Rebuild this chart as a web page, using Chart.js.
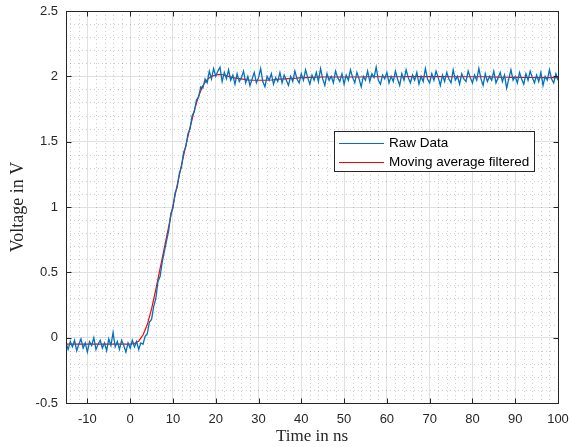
<!DOCTYPE html>
<html>
<head>
<meta charset="utf-8">
<title>Step response</title>
<script src="https://cdn.jsdelivr.net/npm/chart.js@4.4.1/dist/chart.umd.min.js"></script>
<style>
html,body{margin:0;padding:0;background:#fff;}
canvas{display:block;}
</style>
</head>
<body>
<canvas id="stepChart" width="571" height="447"></canvas>
<script>
// ======================================================
// DATA
// ======================================================

// raw samples, every 0.5 ns starting at -15 ns (one row = 5 ns)
const RAW_T0 = -15;
const RAW_DT = 0.5;
const rawVolt = [
    -0.04,-0.09,-0.03,-0.07,-0.02,-0.10,-0.05,-0.01,-0.08,-0.04,
    -0.11,-0.03,-0.06, 0.00,-0.09,-0.05,-0.02,-0.08,-0.04,-0.10,
    -0.01,-0.06, 0.04,-0.07,-0.03,-0.09,-0.02,-0.06,-0.11,-0.04,
    -0.08,-0.02,-0.07,-0.03,-0.09,-0.04,-0.05, 0.01, 0.03, 0.12,
     0.14, 0.24, 0.30, 0.43, 0.47, 0.58, 0.66, 0.74, 0.82, 0.95,
     0.99, 1.11, 1.15, 1.26, 1.31, 1.42, 1.46, 1.56, 1.60, 1.70,
     1.73, 1.82, 1.84, 1.92, 1.91, 1.98, 1.95, 2.04, 1.98, 2.06,
     2.00, 2.04, 2.07, 1.96, 2.03, 1.98, 2.05, 1.97, 2.01, 1.94,
     2.02, 1.96, 1.99, 2.04, 1.95, 2.00, 1.93, 1.98, 2.03, 1.95,
     1.99, 2.06, 1.96, 1.92, 2.00, 1.97, 2.02, 1.94, 1.99, 1.96,
     2.03, 1.95, 2.01, 1.97, 1.93, 2.00, 1.96, 2.04, 1.98, 1.95,
     2.02, 1.97, 2.05, 1.99, 1.94, 2.01, 1.97, 2.03, 1.96, 2.06,
     1.98, 1.93, 2.02, 1.97, 2.00, 1.95, 2.04, 1.99, 1.96, 2.02,
     1.94, 2.01, 1.97, 2.05, 1.99, 1.95, 2.03, 1.98, 1.92, 2.00,
     1.97, 2.04, 1.96, 2.02, 1.99, 2.07, 1.97, 1.94, 2.01, 1.98,
     2.03, 1.95, 2.00, 1.96, 2.04, 1.98, 1.93, 2.02, 1.97, 2.05,
     1.99, 1.95, 2.01, 1.97, 2.03, 1.94, 2.00, 1.96, 2.06, 1.98,
     1.95, 2.02, 1.97, 2.04, 1.99, 1.93, 2.01, 1.96, 2.03, 1.98,
     1.95, 2.05, 1.97, 2.00, 1.94, 2.02, 1.98, 1.96, 2.04, 1.99,
     1.95, 2.01, 1.97, 2.06, 1.98, 1.93, 2.02, 1.96, 2.00, 1.97,
     2.04, 1.95, 1.99, 2.03, 1.96, 2.01, 1.91, 1.98, 2.05, 1.97,
     2.00, 1.95, 2.03, 1.98, 1.94, 2.02, 1.97, 2.04, 1.99, 1.95,
     2.01, 1.96, 2.03, 1.93, 2.00, 1.97, 2.05, 1.98, 1.95, 2.02,
     1.97
];

// moving average, every 1 ns starting at -15 ns (one row = 10 ns)
const AVG_T0 = -15;
const AVG_DT = 1;
const avgVolt = [
    -0.05,-0.05,-0.05,-0.05,-0.05,-0.05,-0.05,-0.05,-0.05,-0.05,
    -0.05,-0.05,-0.05,-0.05,-0.05,-0.05,-0.045,-0.025,0.02,0.10,
     0.22, 0.37, 0.53, 0.69, 0.85, 1.01, 1.17, 1.32, 1.47, 1.61,
     1.74, 1.85, 1.93, 1.975,2.00, 2.01, 2.015,2.01, 2.00, 1.99,
     1.985,1.98, 1.975,1.97, 1.97, 1.97, 1.97, 1.97, 1.972,1.975,
     1.978,1.98, 1.983,1.985,1.987,1.99, 1.99, 1.992,1.993,1.994,
     1.995,1.995,1.995,1.995,1.995,1.995,1.995,1.995,1.995,1.995,
     1.997,1.997,1.997,1.997,1.997,1.997,1.997,1.997,1.997,1.997,
     1.998,1.998,1.998,1.998,1.998,1.998,1.998,1.998,1.998,1.998,
     1.997,1.997,1.997,1.997,1.997,1.997,1.997,1.997,1.997,1.997,
     1.995,1.994,1.993,1.993,1.992,1.992,1.992,1.991,1.991,1.991,
     1.99, 1.99, 1.99, 1.99, 1.99, 1.99
];

const seriesNames = ["Raw Data", "Moving average filtered"];
const seriesColors = ["#0072BD", "#FF0000"];

const xTicks = [-10, 0, 10, 20, 30, 40, 50, 60, 70, 80, 90, 100];
const yTicks = [-0.5, 0, 0.5, 1, 1.5, 2, 2.5];

const xTitle = "Time in ns";
const yTitle = "Voltage in V";

// ======================================================
// HELPERS
// ======================================================

function toPoints(t0, dt, values){

    return values.map((v, i) => ({ x: t0 + i * dt, y: v }));

}

const AXIS_COLOR = "#262626";
const SANS = "'Liberation Sans', Arial, sans-serif";
const SERIF = "'Liberation Serif', 'Times New Roman', serif";

// minor dotted grid, inner tick marks, box and legend (MATLAB look)
const matlabFrame = {

    id: "matlabFrame",

    beforeDatasetsDraw(chart){

        const ctx = chart.ctx;
        const a = chart.chartArea;
        const xs = chart.scales.x;
        const ys = chart.scales.y;

        ctx.save();
        ctx.strokeStyle = "rgba(0,0,0,0.2)";
        ctx.lineWidth = 1;
        ctx.setLineDash([1, 3]);

        for(let v = -14; v < 100; v += 2){
            if(v % 10 === 0) continue;
            const px = Math.round(xs.getPixelForValue(v)) + 0.5;
            ctx.beginPath();
            ctx.moveTo(px, a.top);
            ctx.lineTo(px, a.bottom);
            ctx.stroke();
        }

        for(let k = -4; k < 25; k++){
            if(k % 5 === 0) continue;
            const py = Math.round(ys.getPixelForValue(k / 10)) + 0.5;
            ctx.beginPath();
            ctx.moveTo(a.left, py);
            ctx.lineTo(a.right, py);
            ctx.stroke();
        }

        ctx.restore();

    },

    afterDatasetsDraw(chart){

        const ctx = chart.ctx;
        const a = chart.chartArea;
        const xs = chart.scales.x;
        const ys = chart.scales.y;
        const L = Math.round(a.left) + 0.5;
        const R = Math.round(a.right) + 0.5;
        const T = Math.round(a.top) + 0.5;
        const B = Math.round(a.bottom) + 0.5;
        const tl = 5;

        ctx.save();
        ctx.strokeStyle = AXIS_COLOR;
        ctx.lineWidth = 1;

        // ticks pointing inward on all four sides
        ctx.beginPath();
        xTicks.forEach(v => {
            const px = Math.round(xs.getPixelForValue(v)) + 0.5;
            ctx.moveTo(px, B); ctx.lineTo(px, B - tl);
            ctx.moveTo(px, T); ctx.lineTo(px, T + tl);
        });
        yTicks.forEach(v => {
            const py = Math.round(ys.getPixelForValue(v)) + 0.5;
            ctx.moveTo(L, py); ctx.lineTo(L + tl, py);
            ctx.moveTo(R, py); ctx.lineTo(R - tl, py);
        });
        ctx.stroke();

        ctx.strokeRect(L, T, R - L, B - T);

        // legend box
        const bx = 334.5, by = 131.5, bw = 200, bh = 40;
        ctx.fillStyle = "#fff";
        ctx.fillRect(bx, by, bw, bh);
        ctx.strokeStyle = AXIS_COLOR;
        ctx.strokeRect(bx, by, bw, bh);

        ctx.font = "13.5px " + SANS;
        ctx.textBaseline = "middle";
        ctx.textAlign = "left";

        const rows = [143, 162];
        seriesNames.forEach((name, i) => {
            ctx.strokeStyle = seriesColors[i];
            ctx.beginPath();
            ctx.moveTo(339, rows[i] + 0.5);
            ctx.lineTo(384, rows[i] + 0.5);
            ctx.stroke();
            ctx.fillStyle = "#000";
            ctx.fillText(name, 389, rows[i]);
        });

        ctx.restore();

    }

};

// ======================================================
// CHART
// ======================================================

function drawStepChart(){

    const canvas = document.getElementById("stepChart");

    new Chart(canvas, {

        type: "line",

        plugins: [matlabFrame],

        data: {

            datasets: [

                {
                    label: seriesNames[0],
                    data: toPoints(RAW_T0, RAW_DT, rawVolt),
                    borderColor: seriesColors[0],
                    borderWidth: 1.3,
                    pointRadius: 0,
                    tension: 0
                },

                {
                    label: seriesNames[1],
                    data: toPoints(AVG_T0, AVG_DT, avgVolt),
                    borderColor: seriesColors[1],
                    borderWidth: 1.2,
                    pointRadius: 0,
                    tension: 0
                }

            ]

        },

        options: {

            responsive: false,
            animation: false,
            events: [],

            layout: {
                padding: { left: 0, top: 11, right: 13, bottom: 0 }
            },

            plugins: {
                legend: { display: false },
                tooltip: { enabled: false }
            },

            scales: {

                x: {
                    type: "linear",
                    min: -15,
                    max: 100,
                    afterBuildTicks: s => { s.ticks = xTicks.map(v => ({ value: v })); },
                    afterFit: s => {
                        s.height = 44;
                        s.paddingLeft = 0;
                        s.paddingRight = 0;
                    },
                    ticks: {
                        color: AXIS_COLOR,
                        padding: 9,
                        maxRotation: 0,
                        font: { family: SANS, size: 13 },
                        callback: v => String(v)
                    },
                    grid: { color: "#e0e0e0", drawTicks: false },
                    border: { display: false },
                    title: {
                        display: true,
                        text: xTitle,
                        color: AXIS_COLOR,
                        padding: { top: 0, bottom: 0 },
                        font: { family: SERIF, size: 17 }
                    }
                },

                y: {
                    type: "linear",
                    min: -0.5,
                    max: 2.5,
                    afterBuildTicks: s => { s.ticks = yTicks.map(v => ({ value: v })); },
                    afterFit: s => {
                        s.width = 66;
                        s.paddingTop = 0;
                        s.paddingBottom = 0;
                    },
                    ticks: {
                        color: AXIS_COLOR,
                        padding: 8,
                        font: { family: SANS, size: 13 },
                        callback: v => String(v)
                    },
                    grid: { color: "#e0e0e0", drawTicks: false },
                    border: { display: false },
                    title: {
                        display: true,
                        text: yTitle,
                        color: AXIS_COLOR,
                        padding: { top: 7, bottom: 0 },
                        font: { family: SERIF, size: 18 }
                    }
                }

            }

        }

    });

}

drawStepChart();
</script>
</body>
</html>
